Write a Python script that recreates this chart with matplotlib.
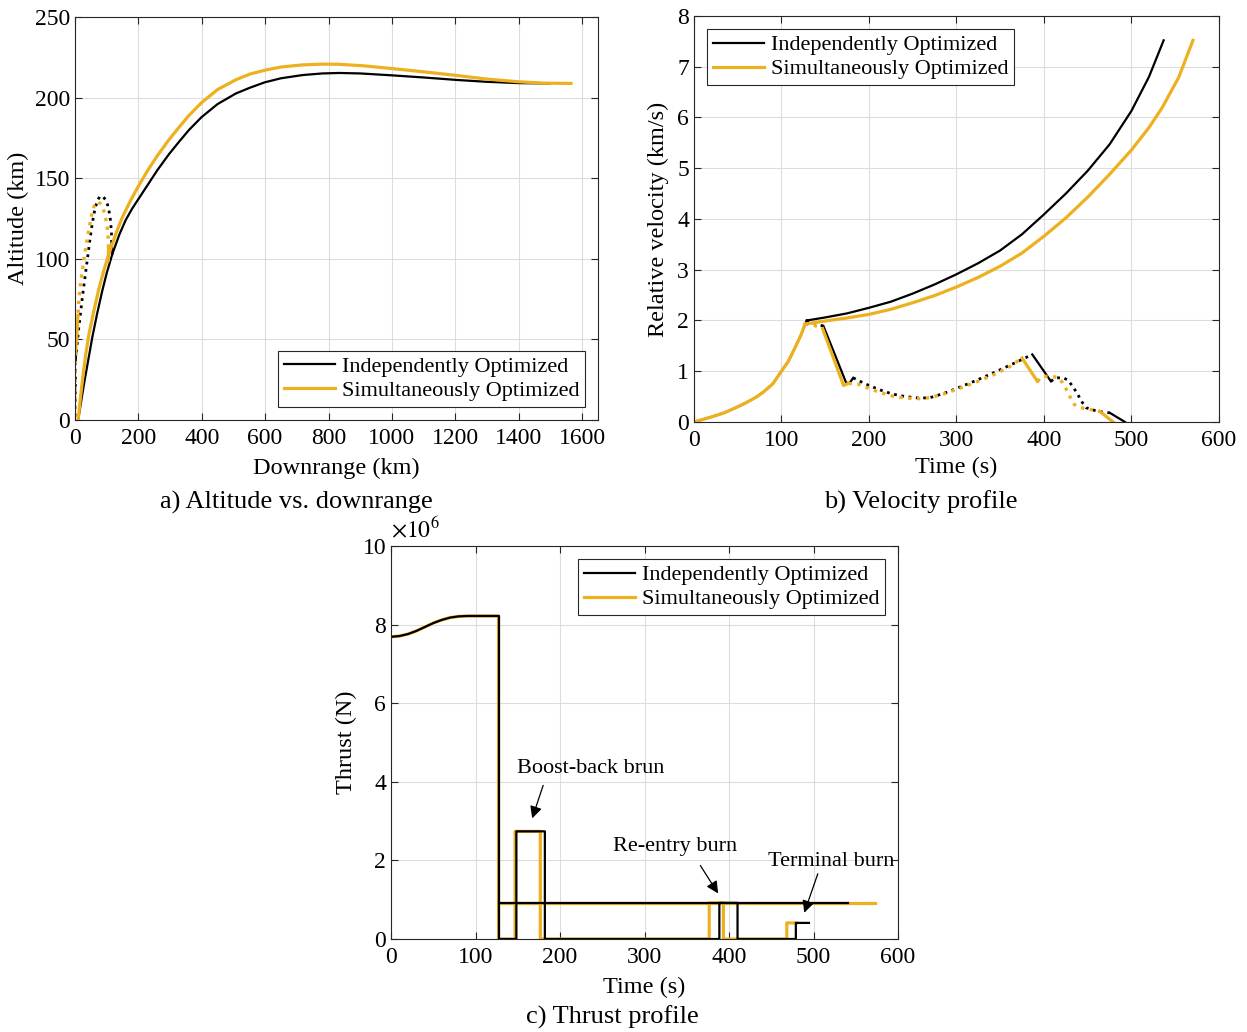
import numpy as np
import matplotlib
matplotlib.use("Agg")
import matplotlib.pyplot as plt
from matplotlib.lines import Line2D

plt.rcParams['font.family'] = ['Liberation Serif', 'DejaVu Serif']
plt.rcParams['mathtext.fontset'] = 'stix'

BLACK = '#000000'
ORANGE = '#EDB120'
LABELS = ['Independently Optimized', 'Simultaneously Optimized']

# ========== a) altitude vs downrange (km) ==========
# ascent + second stage (solid)
a_ind_x = [10, 20, 30, 40, 55, 70, 86, 100, 118, 140, 160, 180, 200, 230, 260, 297, 330, 360,
           400, 450, 507, 550, 599, 650, 718, 780, 834, 900, 1002, 1100, 1202, 1300, 1402, 1497]
a_ind_y = [0, 12, 24, 35, 51.6, 66, 80, 91, 103, 115, 124, 131, 137, 146, 155, 165, 173, 180,
           188, 196, 202.5, 206, 209.5, 212, 214, 215, 215.3, 215, 213.8, 212.5, 211, 209.8, 209, 208.8]
a_sim_x = [10, 18, 27, 35, 44, 60, 75, 90, 107, 130, 150, 175, 200, 230, 260, 297, 330, 360,
           400, 450, 507, 550, 599, 650, 718, 780, 830, 907, 1002, 1100, 1202, 1300, 1402, 1480, 1565]
a_sim_y = [0, 15, 30, 42, 53, 68, 81, 92, 103, 116, 126, 136, 145, 155, 164, 174, 182, 189,
           197, 205, 211, 214.5, 217, 219, 220.3, 220.8, 220.7, 219.8, 218, 216, 213.8, 211.5, 209.8, 209, 208.8]
# first stage return: coasts (dotted) and burns (solid)
a_ind_bb_x = [118, 116]
a_ind_bb_y = [103, 110]
a_ind_c1_x = [116, 115, 112, 108, 103, 97, 90, 84, 78, 72, 66, 60, 54, 48, 42, 36, 30, 24, 18, 12, 7, 4]
a_ind_c1_y = [110, 117, 124, 129, 133.5, 136.5, 138.3, 139, 138.5, 136.5, 133, 128, 121, 113, 104,
              95, 86, 77, 67, 57, 47, 42]
a_ind_re_x = [4, 2]
a_ind_re_y = [42, 36]
a_ind_c2_x = [2, 1, 0]
a_ind_c2_y = [36, 18, 0]
a_sim_bb_x = [105, 106]
a_sim_bb_y = [99, 107]
a_sim_c1_x = [106, 105, 102, 98, 93, 87, 80, 73, 67, 61, 56, 50, 45, 40, 34, 28, 22, 18, 13, 9.5]
a_sim_c1_y = [107, 113, 119, 124, 128.5, 132, 134.3, 135.3, 135, 133, 130, 125, 119, 114, 107,
              99, 91, 86, 76, 65]
a_sim_re_x = [9.5, 6, 2]
a_sim_re_y = [65, 53, 42]
a_sim_c2_x = [2, 1, 0.5, 0]
a_sim_c2_y = [42, 30, 15, 0]

# ========== b) velocity profile (s, km/s) ==========
b_ind_asc_t = [0, 10, 20, 34.5, 45, 55, 65, 73, 80, 90, 100, 108, 115.4, 122, 128.9]
b_ind_asc_v = [0, 0.05, 0.1, 0.18, 0.26, 0.34, 0.43, 0.51, 0.6, 0.75, 1.0, 1.2, 1.46, 1.7, 2.0]
b_sim_asc_t = [0, 10, 20, 34.5, 45, 55, 65, 73, 80, 90, 100, 108, 115.4, 122, 127]
b_sim_asc_v = [0, 0.05, 0.1, 0.18, 0.26, 0.34, 0.43, 0.51, 0.6, 0.75, 1.0, 1.2, 1.46, 1.7, 1.93]
b_ind_s2_t = [128.9, 150, 175, 200, 225, 250, 275, 300, 325, 350, 375, 400, 425, 450, 475, 500, 520, 536.8]
b_ind_s2_v = [2.0, 2.06, 2.14, 2.25, 2.37, 2.53, 2.71, 2.91, 3.13, 3.38, 3.7, 4.09, 4.5, 4.95, 5.47,
              6.13, 6.8, 7.52]
b_sim_s2_t = [127, 150, 175, 200, 225, 250, 275, 300, 325, 350, 375, 400, 425, 450, 475, 500, 520,
              535, 554, 570.3]
b_sim_s2_v = [1.93, 1.99, 2.05, 2.12, 2.22, 2.35, 2.49, 2.66, 2.85, 3.07, 3.33, 3.66, 4.02, 4.43, 4.88,
              5.36, 5.8, 6.19, 6.79, 7.52]
# first stage (coasts dotted, burns solid)
b_ind_c1_t = [128.9, 140, 148]
b_ind_c1_v = [2.0, 1.93, 1.89]
b_ind_bb_t = [148, 174, 178, 182]
b_ind_bb_v = [1.89, 0.77, 0.77, 0.87]
b_ind_c2_t = [182, 190, 200, 213, 227, 242, 257.8, 270, 285, 300, 320, 342.5, 365, 386.7]
b_ind_c2_v = [0.87, 0.8, 0.72, 0.63, 0.55, 0.5, 0.47, 0.48, 0.56, 0.66, 0.8, 0.97, 1.15, 1.33]
b_ind_re_t = [386.7, 408]
b_ind_re_v = [1.33, 0.80]
b_ind_c3_t = [408, 412, 416, 422, 427, 433, 438.7, 444, 448.4, 455, 465, 475.3]
b_ind_c3_v = [0.80, 0.86, 0.87, 0.87, 0.83, 0.7, 0.54, 0.38, 0.28, 0.24, 0.2, 0.18]
b_ind_tb_t = [475.3, 492.6]
b_ind_tb_v = [0.18, 0.0]
b_sim_c1_t = [127, 138, 147]
b_sim_c1_v = [1.93, 1.90, 1.84]
b_sim_bb_t = [147, 171, 176.6]
b_sim_bb_v = [1.84, 0.72, 0.76]
b_sim_c2_t = [176.6, 188.5, 200, 213, 227, 242, 257.8, 270, 285, 300, 320, 342.5, 360, 375]
b_sim_c2_v = [0.76, 0.74, 0.66, 0.58, 0.51, 0.47, 0.46, 0.48, 0.55, 0.64, 0.77, 0.93, 1.08, 1.26]
b_sim_re_t = [375, 392.5]
b_sim_re_v = [1.26, 0.80]
b_sim_c3_t = [392.5, 396, 400, 408, 415.6, 421, 427, 431, 434.9, 442, 452, 463.7]
b_sim_c3_v = [0.80, 0.87, 0.9, 0.9, 0.88, 0.78, 0.6, 0.45, 0.34, 0.28, 0.25, 0.21]
b_sim_tb_t = [463.7, 479]
b_sim_tb_v = [0.21, 0.0]

# ========== c) thrust profile (s, 1e6 N) ==========
c_ind_s1_t = [0, 10, 20, 30, 40, 50, 60, 70, 80, 90, 100, 110, 120, 127.7,
              127.7, 148.3, 148.3, 182, 182, 388.5, 388.5, 410, 410, 479, 479, 494.5]
c_ind_s1_f = [7.69, 7.71, 7.76, 7.84, 7.94, 8.04, 8.12, 8.18, 8.21, 8.22, 8.22, 8.22, 8.22, 8.22,
              0, 0, 2.74, 2.74, 0, 0, 0.92, 0.92, 0, 0, 0.41, 0.41]
c_sim_s1_t = [0, 10, 20, 30, 40, 50, 60, 70, 80, 90, 100, 110, 120, 127.2,
              127.2, 146.8, 146.8, 176.6, 176.6, 376.5, 376.5, 393.3, 393.3, 468.3, 468.3, 480]
c_sim_s1_f = [7.69, 7.71, 7.76, 7.84, 7.94, 8.04, 8.12, 8.18, 8.21, 8.22, 8.22, 8.22, 8.22, 8.22,
              0, 0, 2.74, 2.74, 0, 0, 0.92, 0.92, 0, 0, 0.41, 0.41]
c_ind_s2_t = [127.7, 540.5]
c_ind_s2_f = [0.92, 0.92]
c_sim_s2_t = [127.2, 573]
c_sim_s2_f = [0.92, 0.92]

TICK_FS = 17
LABEL_FS = 17.5
LEG_FS = 16
CAP_FS = 19
LW_K = 1.6
LW_O = 2.3


def style_axes(ax):
    ax.grid(True, color='#dcdcdc', lw=0.8)
    ax.set_axisbelow(True)
    ax.tick_params(direction='in', top=True, right=True, labelsize=TICK_FS,
                   length=5, width=0.8, color='#262626')
    ax.tick_params(axis='x', pad=6)
    for s in ax.spines.values():
        s.set_color('#262626')
        s.set_linewidth(0.8)


def add_legend(ax, loc):
    handles = [Line2D([0], [0], color=BLACK, lw=LW_K),
               Line2D([0], [0], color=ORANGE, lw=LW_O)]
    leg = ax.legend(handles, LABELS, loc=loc, fontsize=LEG_FS, fancybox=False,
                    edgecolor='#262626', framealpha=1, handlelength=2.3,
                    borderpad=0.25, labelspacing=0.15, handletextpad=0.3,
                    borderaxespad=0.6)
    leg.get_frame().set_linewidth(0.8)


fig = plt.figure(figsize=(12.47, 10.32), dpi=100)

# --------------------------------------------------
# a) Altitude vs downrange
# --------------------------------------------------
ax1 = fig.add_axes([0.0601, 0.593, 0.4194, 0.3905])
ax1.plot(a_ind_x, a_ind_y, color=BLACK, lw=LW_K)
ax1.plot(a_ind_bb_x, a_ind_bb_y, color=BLACK, lw=LW_K)
ax1.plot(a_ind_c1_x, a_ind_c1_y, color=BLACK, lw=2, ls=':')
ax1.plot(a_ind_re_x, a_ind_re_y, color=BLACK, lw=LW_K)
ax1.plot(a_ind_c2_x, a_ind_c2_y, color=BLACK, lw=2, ls=':')
ax1.plot(a_sim_x, a_sim_y, color=ORANGE, lw=LW_O)
ax1.plot(a_sim_bb_x, a_sim_bb_y, color=ORANGE, lw=LW_O)
ax1.plot(a_sim_c1_x, a_sim_c1_y, color=ORANGE, lw=2.4, ls=':')
ax1.plot(a_sim_re_x, a_sim_re_y, color=ORANGE, lw=LW_O)
ax1.plot(a_sim_c2_x, a_sim_c2_y, color=ORANGE, lw=2.4, ls=':')
ax1.set_xlim(0, 1650)
ax1.set_ylim(0, 250)
ax1.set_xticks(np.arange(0, 1601, 200))
ax1.set_yticks(np.arange(0, 251, 50))
ax1.set_xlabel('Downrange (km)', fontsize=LABEL_FS, labelpad=6)
ax1.set_ylabel('Altitude (km)', fontsize=LABEL_FS, labelpad=4)
style_axes(ax1)
add_legend(ax1, 'lower right')

# --------------------------------------------------
# b) Velocity profile
# --------------------------------------------------
ax2 = fig.add_axes([0.5565, 0.5911, 0.421, 0.3934])
for t, v in [(b_ind_asc_t, b_ind_asc_v), (b_ind_s2_t, b_ind_s2_v), (b_ind_bb_t, b_ind_bb_v),
             (b_ind_re_t, b_ind_re_v), (b_ind_tb_t, b_ind_tb_v)]:
    ax2.plot(t, v, color=BLACK, lw=LW_K)
for t, v in [(b_ind_c1_t, b_ind_c1_v), (b_ind_c2_t, b_ind_c2_v), (b_ind_c3_t, b_ind_c3_v)]:
    ax2.plot(t, v, color=BLACK, lw=2, ls=':')
for t, v in [(b_sim_asc_t, b_sim_asc_v), (b_sim_s2_t, b_sim_s2_v), (b_sim_bb_t, b_sim_bb_v),
             (b_sim_re_t, b_sim_re_v), (b_sim_tb_t, b_sim_tb_v)]:
    ax2.plot(t, v, color=ORANGE, lw=LW_O)
for t, v in [(b_sim_c1_t, b_sim_c1_v), (b_sim_c2_t, b_sim_c2_v), (b_sim_c3_t, b_sim_c3_v)]:
    ax2.plot(t, v, color=ORANGE, lw=2.4, ls=':')
ax2.set_xlim(0, 600)
ax2.set_ylim(0, 8)
ax2.set_xticks(np.arange(0, 601, 100))
ax2.set_yticks(np.arange(0, 9, 1))
ax2.set_xlabel('Time (s)', fontsize=LABEL_FS, labelpad=4)
ax2.set_ylabel('Relative velocity (km/s)', fontsize=LABEL_FS, labelpad=6)
style_axes(ax2)
add_legend(ax2, 'upper left')

# --------------------------------------------------
# c) Thrust profile
# --------------------------------------------------
ax3 = fig.add_axes([0.3136, 0.0901, 0.4066, 0.3808])
ax3.plot(c_sim_s1_t, c_sim_s1_f, color=ORANGE, lw=LW_O)
ax3.plot(c_sim_s2_t, c_sim_s2_f, color=ORANGE, lw=LW_O)
ax3.plot(c_ind_s1_t, c_ind_s1_f, color=BLACK, lw=LW_K)
ax3.plot(c_ind_s2_t, c_ind_s2_f, color=BLACK, lw=LW_K)
ax3.set_xlim(0, 600)
ax3.set_ylim(0, 10)
ax3.set_xticks(np.arange(0, 601, 100))
ax3.set_yticks(np.arange(0, 11, 2))
ax3.set_xlabel('Time (s)', fontsize=LABEL_FS, labelpad=6)
ax3.set_ylabel('Thrust (N)', fontsize=LABEL_FS, labelpad=4)
ax3.text(0.0, 1.008, r'$\times10^{6}$', transform=ax3.transAxes, fontsize=TICK_FS,
         ha='left', va='bottom')
style_axes(ax3)
add_legend(ax3, 'upper right')

arrow = dict(arrowstyle='-|>', color='k', lw=0.9, mutation_scale=18, shrinkA=0, shrinkB=0)
ax3.annotate('', xy=(167, 3.07), xytext=(180, 3.91), arrowprops=arrow)
ax3.text(236, 4.34, 'Boost-back brun', fontsize=LEG_FS, ha='center', va='center')
ax3.annotate('', xy=(387, 1.16), xytext=(366, 1.87), arrowprops=arrow)
ax3.text(336, 2.35, 'Re-entry burn', fontsize=LEG_FS, ha='center', va='center')
ax3.annotate('', xy=(489, 0.67), xytext=(505, 1.66), arrowprops=arrow)
ax3.text(521, 1.97, 'Terminal burn', fontsize=LEG_FS, ha='center', va='center')

# captions
fig.text(296 / 1247, 1 - 502 / 1032, 'a) Altitude vs. downrange', fontsize=CAP_FS, ha='center', va='center')
fig.text(921 / 1247, 1 - 502 / 1032, 'b) Velocity profile', fontsize=CAP_FS, ha='center', va='center')
fig.text(612 / 1247, 1 - 1017 / 1032, 'c) Thrust profile', fontsize=CAP_FS, ha='center', va='center')

fig.savefig('out.png', dpi=100)
